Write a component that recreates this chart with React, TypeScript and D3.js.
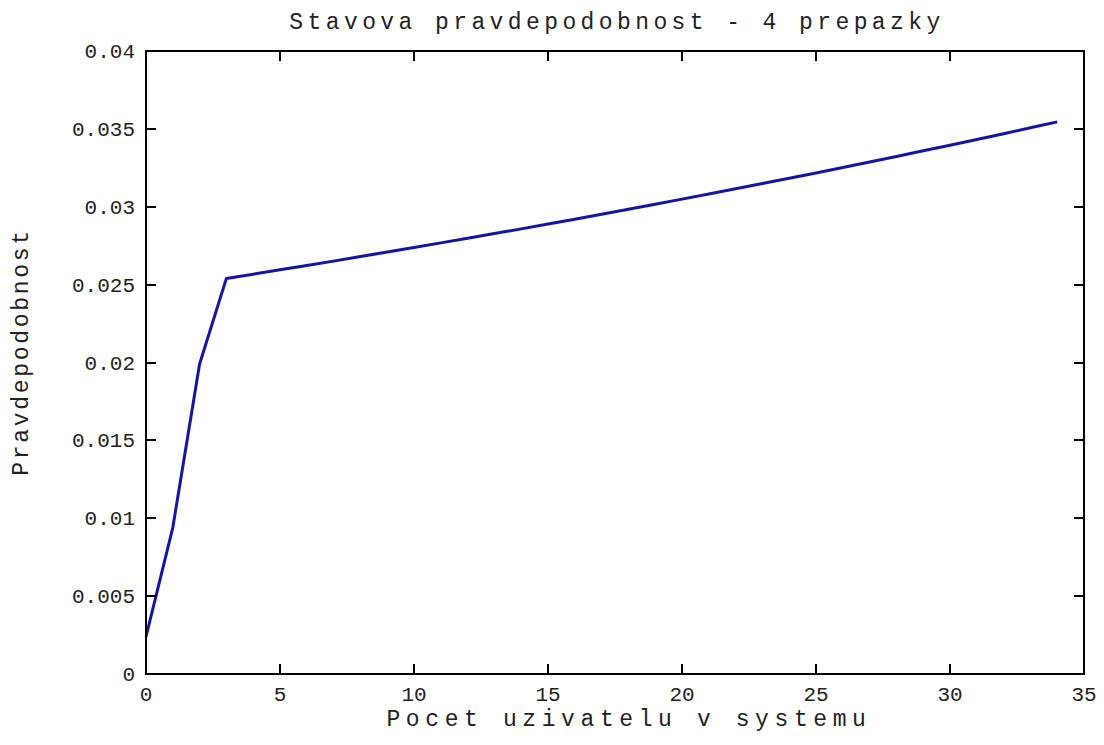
import React, { useEffect, useRef } from "react";
import * as d3 from "d3";

// users in system (state n)
const states: number[] = Array.from({ length: 35 }, (_, i) => i);
// state probability
const probabilities: number[] = [
  0.0024, 0.0094, 0.0199, 0.0254, 0.02567, 0.02595, 0.02623, 0.02651, 0.0268, 0.02709,
  0.02738, 0.02768, 0.02798, 0.02828, 0.02858, 0.02889, 0.0292, 0.02952, 0.02984, 0.03016,
  0.03049, 0.03082, 0.03115, 0.03149, 0.03183, 0.03217, 0.03252, 0.03287, 0.03323, 0.03359,
  0.03395, 0.03432, 0.03469, 0.03507, 0.03545,
];
const xTicks: number[] = [0, 5, 10, 15, 20, 25, 30, 35];
const yTicks: number[] = [0, 0.005, 0.01, 0.015, 0.02, 0.025, 0.03, 0.035, 0.04];
const yTickLabels: string[] = ["0", "0.005", "0.01", "0.015", "0.02", "0.025", "0.03", "0.035", "0.04"];

const titleText = "Stavova pravdepodobnost - 4 prepazky";
const xLabelText = "Pocet uzivatelu v systemu";
const yLabelText = "Pravdepodobnost";

const W = 1104;
const H = 745;
const left = 146, right = 1084, top = 51, bottom = 674;
const FONT = "'Liberation Mono', 'DejaVu Sans Mono', monospace";
const TXT = "#222";

export default function App() {
  const ref = useRef<SVGSVGElement>(null);

  useEffect(() => {
    const svg = d3.select(ref.current);
    svg.selectAll("*").remove();

    const x = d3.scaleLinear().domain([0, 35]).range([left, right]);
    const y = d3.scaleLinear().domain([0, 0.04]).range([bottom, top]);

    svg.append("rect").attr("width", W).attr("height", H).attr("fill", "#fff");

    // data line
    const line = d3.line<number>()
      .x((d, i) => x(states[i]))
      .y(d => y(d));
    svg.append("path")
      .datum(probabilities)
      .attr("d", line)
      .attr("fill", "none")
      .attr("stroke", "#1414a8")
      .attr("stroke-width", 3)
      .attr("stroke-linejoin", "round");

    const tickLen = 10;
    const g = svg.append("g").attr("stroke", "#000").attr("stroke-width", 2);

    // ticks (inward, on all four sides)
    xTicks.forEach(t => {
      const px = Math.round(x(t));
      g.append("line").attr("x1", px).attr("x2", px).attr("y1", bottom).attr("y2", bottom - tickLen);
      g.append("line").attr("x1", px).attr("x2", px).attr("y1", top).attr("y2", top + tickLen);
    });
    yTicks.forEach(t => {
      const py = Math.round(y(t));
      g.append("line").attr("x1", left).attr("x2", left + tickLen).attr("y1", py).attr("y2", py);
      g.append("line").attr("x1", right).attr("x2", right - tickLen).attr("y1", py).attr("y2", py);
    });

    // box
    g.append("rect")
      .attr("x", left).attr("y", top)
      .attr("width", right - left).attr("height", bottom - top)
      .attr("fill", "none");

    // tick labels
    svg.append("g").selectAll("text")
      .data(xTicks)
      .enter().append("text")
      .attr("x", d => x(d))
      .attr("y", 701)
      .attr("text-anchor", "middle")
      .attr("font-family", FONT)
      .attr("font-size", 21)
      .attr("fill", TXT)
      .text(d => String(d));

    svg.append("g").selectAll("text")
      .data(yTicks)
      .enter().append("text")
      .attr("x", 135)
      .attr("y", d => y(d) + 7)
      .attr("text-anchor", "end")
      .attr("font-family", FONT)
      .attr("font-size", 21)
      .attr("fill", TXT)
      .text((d, i) => yTickLabels[i]);

    // title and axis labels
    svg.append("text")
      .attr("x", (left + right) / 2 + 2)
      .attr("y", 29)
      .attr("text-anchor", "middle")
      .attr("font-family", FONT)
      .attr("font-size", 23)
      .attr("letter-spacing", 4.4)
      .attr("fill", TXT)
      .text(titleText);

    svg.append("text")
      .attr("x", (left + right) / 2 + 14)
      .attr("y", 726)
      .attr("text-anchor", "middle")
      .attr("font-family", FONT)
      .attr("font-size", 23)
      .attr("letter-spacing", 5.6)
      .attr("fill", TXT)
      .text(xLabelText);

    svg.append("text")
      .attr("transform", `translate(28, 352) rotate(-90)`)
      .attr("text-anchor", "middle")
      .attr("font-family", FONT)
      .attr("font-size", 23)
      .attr("letter-spacing", 2.7)
      .attr("fill", TXT)
      .text(yLabelText);
  }, []);

  return (
    <svg
      ref={ref}
      width={W}
      height={H}
      style={{ position: "absolute", left: 0, top: 0, display: "block" }}
    />
  );
}
